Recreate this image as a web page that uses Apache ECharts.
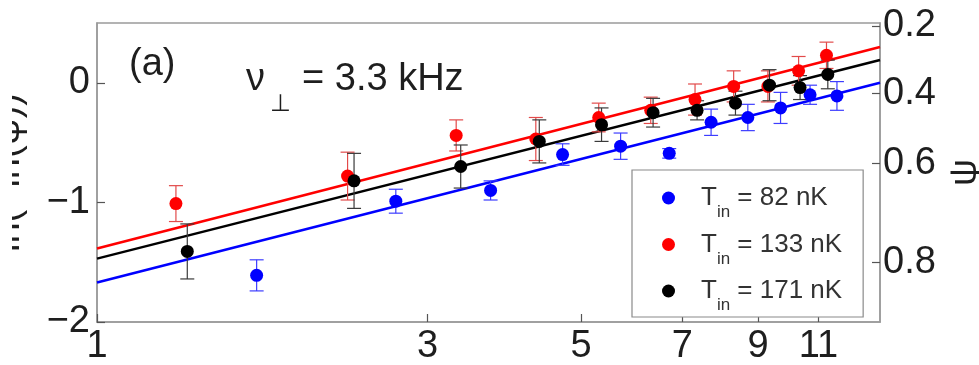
<!DOCTYPE html>
<html>
<head>
<meta charset="utf-8">
<script src="https://cdn.jsdelivr.net/npm/echarts@6/dist/echarts.min.js"></script>
<style>
html,body{margin:0;padding:0;background:#fff;}
#chart{width:979px;height:365px;}
</style>
</head>
<body>
<div id="chart"></div>
<script>
// ---- data ----
const xTickValues = [1, 3, 5, 7, 9, 11];
const yTickValues = [-2, -1, 0];
const psiTickValues = [0.2, 0.4, 0.6, 0.8];

const tempLabels = ['82 nK', '133 nK', '171 nK'];

const xBlue  = [1.7, 2.7, 3.7, 4.7, 5.7, 6.7, 7.7, 8.7, 9.7, 10.7, 11.7];
const yBlue  = [-1.61, -0.99, -0.90, -0.60, -0.53, -0.59, -0.33, -0.29, -0.21, -0.10, -0.11];
const eBlue  = [0.13, 0.10, 0.08, 0.09, 0.11, 0.04, 0.11, 0.11, 0.13, 0.08, 0.12];

const xRed   = [1.3, 2.3, 3.3, 4.3, 5.3, 6.3, 7.3, 8.3, 9.3, 10.3, 11.3];
const yRed   = [-1.01, -0.78, -0.44, -0.47, -0.29, -0.23, -0.14, -0.03, -0.03, 0.10, 0.23];
const eRed   = [0.15, 0.20, 0.13, 0.18, 0.12, 0.11, 0.13, 0.13, 0.13, 0.12, 0.11];

const xBlack = [1.35, 2.35, 3.35, 4.35, 5.35, 6.35, 7.35, 8.35, 9.35, 10.35, 11.35];
const yBlack = [-1.41, -0.82, -0.70, -0.49, -0.35, -0.25, -0.23, -0.17, -0.02, -0.04, 0.07];
const eBlack = [0.23, 0.23, 0.18, 0.18, 0.14, 0.12, 0.08, 0.10, 0.13, 0.10, 0.12];

// fitted straight lines: values at the two ends of the x range
const fitX     = [1, 13.5];
const fitBlue  = [-1.67, 0.00];
const fitRed   = [-1.385, 0.30];
const fitBlack = [-1.47, 0.19];

// ---- helpers ----
const FONT = '"Liberation Sans", Arial, Helvetica, sans-serif';
const TXT = '#1e1e1e';
const zip = (xs, ys) => xs.map((x, i) => [x, ys[i]]);
const zip3 = (xs, ys, es) => xs.map((x, i) => [x, ys[i], es[i]]);
const minus = v => (v < 0 ? '\u2212' + Math.abs(v) : String(v));
const psiToY = p => Math.log(-Math.log(p));
const seriesNames = tempLabels.map(t => 'T_in = ' + t);

const groups = [
  { name: seriesNames[0], color: '#0000ff', bar: '#3d3dff', x: xBlue, y: yBlue, e: eBlue, fit: fitBlue },
  { name: seriesNames[1], color: '#ff0000', bar: '#e24a4a', x: xRed, y: yRed, e: eRed, fit: fitRed },
  { name: seriesNames[2], color: '#000000', bar: '#3a3a3a', x: xBlack, y: yBlack, e: eBlack, fit: fitBlack }
];

function errorBarRender(color) {
  return function (params, api) {
    const x = api.value(0), y = api.value(1), e = api.value(2);
    const top = api.coord([x, y + e]);
    const bot = api.coord([x, y - e]);
    const hw = 7;
    const st = { stroke: color, lineWidth: 1.2 };
    return {
      type: 'group',
      children: [
        { type: 'line', shape: { x1: top[0], y1: top[1], x2: bot[0], y2: bot[1] }, style: st },
        { type: 'line', shape: { x1: top[0] - hw, y1: top[1], x2: top[0] + hw, y2: top[1] }, style: st },
        { type: 'line', shape: { x1: bot[0] - hw, y1: bot[1], x2: bot[0] + hw, y2: bot[1] }, style: st }
      ]
    };
  };
}

const series = [];
groups.forEach(g => {
  series.push({
    type: 'line', name: g.name + ' fit', data: zip(fitX, g.fit),
    symbol: 'none', silent: true, z: 1,
    lineStyle: { color: g.color, width: 2.5 }, itemStyle: { color: g.color }
  });
});
groups.forEach(g => {
  series.push({
    type: 'custom', name: g.name + ' err', data: zip3(g.x, g.y, g.e), z: 2, silent: true,
    renderItem: errorBarRender(g.bar), encode: { x: 0, y: 1 }
  });
});
groups.forEach(g => {
  series.push({
    type: 'scatter', name: g.name, data: zip(g.x, g.y), z: 3,
    symbol: 'circle', symbolSize: 13, itemStyle: { color: g.color, opacity: 1 }
  });
});

const axisGray = '#9a9a9a';

const option = {
  backgroundColor: '#ffffff',
  animation: false,
  grid: { left: 97, right: 99, top: 23, bottom: 43, containLabel: false, outerBoundsMode: 'none',
          show: true, borderColor: axisGray, borderWidth: 1.5, backgroundColor: '#fff' },
  xAxis: {
    type: 'log', logBase: Math.E, min: 1, max: 13.5,
    axisLine: { show: true, onZero: false, lineStyle: { color: axisGray, width: 1.5 } },
    axisTick: { show: true, inside: true, length: 8, customValues: xTickValues, lineStyle: { color: '#555', width: 1.2 } },
    axisLabel: { customValues: xTickValues, formatter: v => String(Math.round(v)), fontSize: 38, fontFamily: FONT, color: TXT, margin: 6 },
    splitLine: { show: false }, minorTick: { show: false }
  },
  yAxis: [
    {
      type: 'value', position: 'left', min: -2, max: 0.5,
      name: 'ln(\u2212ln(\u03c8))', nameLocation: 'middle', nameRotate: 90, nameGap: 69,
      nameTextStyle: { fontSize: 38, fontFamily: FONT, color: TXT },
      axisLine: { show: true, onZero: false, lineStyle: { color: axisGray, width: 1.5 } },
      axisTick: { show: true, inside: true, length: 8, customValues: yTickValues, lineStyle: { color: '#555', width: 1.2 } },
      axisLabel: { customValues: yTickValues, formatter: v => minus(v), fontSize: 38, fontFamily: FONT, color: TXT, margin: 7 },
      splitLine: { show: false }
    },
    {
      type: 'value', position: 'right', min: -2, max: 0.5,
      name: '\u03c8', nameLocation: 'middle', nameRotate: 90, nameGap: 61,
      nameTextStyle: { fontSize: 38, fontFamily: FONT, color: TXT },
      axisLine: { show: true, onZero: false, lineStyle: { color: axisGray, width: 1.5 } },
      axisTick: { show: true, inside: true, length: 8, customValues: psiTickValues.map(psiToY), lineStyle: { color: '#555', width: 1.2 } },
      axisLabel: { customValues: psiTickValues.map(psiToY), formatter: v => Math.exp(-Math.exp(v)).toFixed(1), fontSize: 38, fontFamily: FONT, color: TXT, margin: 3 },
      splitLine: { show: false }
    }
  ],
  legend: {
    data: seriesNames, orient: 'vertical', left: 632, top: 170,
    padding: [15, 21, 3, 30], itemGap: 10.5, itemWidth: 13, itemHeight: 13,
    backgroundColor: '#fff', borderColor: '#8a8a8a', borderWidth: 1.2,
    icon: 'circle',
    formatter: name => '{t|T}{s|in}{r| = ' + name.split(' = ')[1] + '}',
    textStyle: {
      fontFamily: FONT, color: '#333',
      rich: {
        t: { fontSize: 26, lineHeight: 26, verticalAlign: 'top', padding: [0, 0, 0, 21], fontFamily: FONT, color: '#333' },
        s: { fontSize: 17, lineHeight: 17, verticalAlign: 'top', padding: [19, 0, 0, 0], fontFamily: FONT, color: '#333' },
        r: { fontSize: 26, lineHeight: 26, verticalAlign: 'top', fontFamily: FONT, color: '#333' }
      }
    }
  },
  graphic: [
    { type: 'text', left: 129, top: 46, style: { text: '(a)', font: '38px ' + FONT, fill: TXT } },
    { type: 'text', left: 246, top: 61, style: { text: '\u03bd', font: '38px ' + FONT, fill: TXT } },
    { type: 'text', left: 270, top: 92, style: { text: '\u22a5', font: '24px ' + FONT, fill: TXT } },
    { type: 'text', left: 302, top: 61, style: { text: '= 3.3 kHz', font: '38px ' + FONT, fill: TXT } },
    // the reference figure is cropped at its left edge, cutting the y-axis title
    { type: 'rect', left: 0, top: 0, z: 100, shape: { width: 12, height: 365 }, style: { fill: '#ffffff' }, silent: true }
  ],
  series: series
};

const chart = echarts.init(document.getElementById('chart'), null, { renderer: 'canvas' });
chart.setOption(option);
</script>
</body>
</html>
